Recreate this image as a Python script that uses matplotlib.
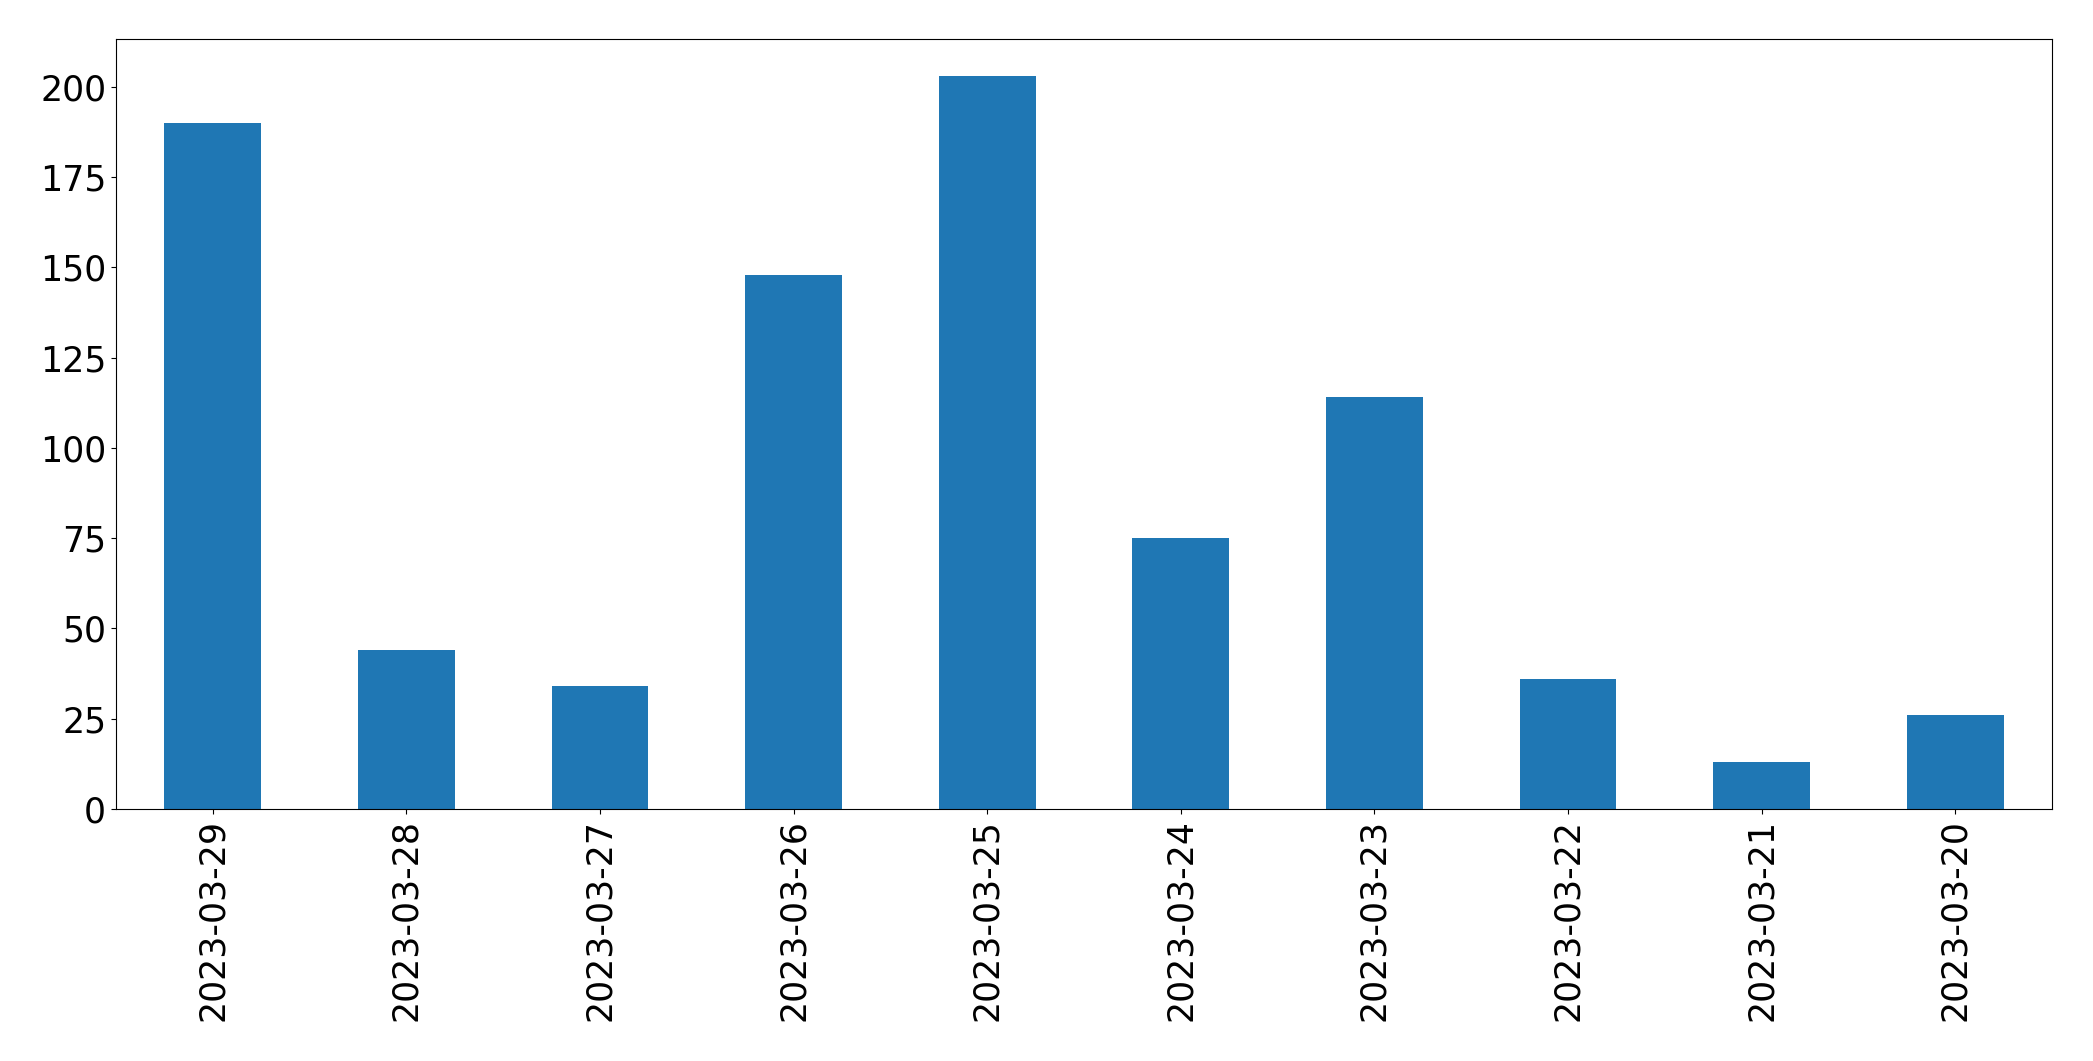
import pandas as pd
import matplotlib
matplotlib.use("Agg")
import matplotlib.pyplot as plt

dates = ["2023-03-29", "2023-03-28", "2023-03-27", "2023-03-26", "2023-03-25",
         "2023-03-24", "2023-03-23", "2023-03-22", "2023-03-21", "2023-03-20"]
counts = [190, 44, 34, 148, 203, 75, 114, 36, 13, 26]


def main():
    s = pd.Series(counts, index=dates)

    fig = plt.figure(figsize=(20.93, 10.61), dpi=100)
    ax = fig.add_axes([0.0554, 0.2375, 0.925, 0.7255])
    s.plot(kind="bar", ax=ax, color="#1f77b4", fontsize=25)
    ax.tick_params(axis="x", labelrotation=90)

    fig.savefig("out.png", dpi=100)
    plt.close(fig)


if __name__ == "__main__":
    main()
